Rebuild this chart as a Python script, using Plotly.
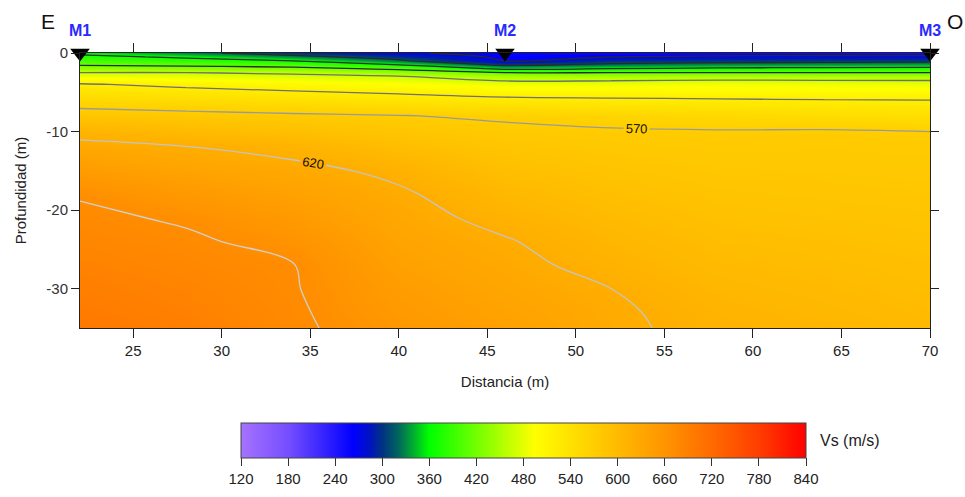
import numpy as np
import plotly.graph_objects as go

# Distance positions (m) of grid columns
X_DIST = [22, 28, 34, 40, 46, 52, 58, 64, 70]
# Depth rows (m, negative downward)
DEPTH = [0, -0.5, -1, -1.5, -2, -2.5, -3, -4, -5, -6, -8, -10, -12, -15, -18, -21, -24, -27, -30, -33, -35]

# Vs (m/s) per column, top to bottom
VS_X22 = [360, 381, 399, 416, 442, 470, 489, 523, 539, 554, 584, 611, 628, 648, 668, 675, 680, 685, 691, 696, 700]
VS_X28 = [330, 363, 388, 411, 439, 470, 484, 512, 532, 549, 579, 600, 621, 636, 652, 667, 674, 678, 683, 687, 690]
VS_X34 = [300, 334, 370, 401, 432, 464, 479, 502, 524, 542, 575, 593, 611, 628, 639, 651, 662, 671, 672, 674, 675]
VS_X40 = [275, 300, 328, 370, 412, 445, 472, 494, 516, 535, 571, 583, 595, 614, 624, 629, 635, 640, 646, 651, 655]
VS_X46 = [258, 263, 270, 312, 360, 420, 451, 485, 507, 528, 566, 576, 583, 593, 603, 613, 622, 627, 632, 637, 640]
VS_X52 = [256, 270, 300, 328, 370, 420, 453, 485, 506, 525, 560, 573, 578, 585, 592, 599, 606, 612, 620, 624, 625]
VS_X58 = [255, 275, 305, 337, 378, 420, 456, 487, 505, 523, 554, 572, 575, 580, 585, 590, 595, 600, 605, 610, 612]
VS_X64 = [253, 280, 307, 341, 382, 420, 456, 485, 503, 521, 548, 573, 576, 579, 583, 587, 592, 596, 600, 604, 607]
VS_X70 = [250, 280, 308, 345, 384, 420, 456, 484, 502, 520, 544, 570, 575, 578, 581, 585, 588, 592, 595, 598, 600]

# Station markers
STATION_X = [22, 46, 70]
STATION_LABELS = ["M1", "M2", "M3"]

X_TICKS = [25, 30, 35, 40, 45, 50, 55, 60, 65, 70]
Y_TICKS = [0, -10, -20, -30]
Y_TICK_TEXT = ["0", "-10", "-20", "-30"]
CBAR_TICKS = [120, 180, 240, 300, 360, 420, 480, 540, 600, 660, 720, 780, 840]

ZMIN, ZMAX = 120, 840

Z = np.array([VS_X22, VS_X28, VS_X34, VS_X40, VS_X46, VS_X52, VS_X58, VS_X64, VS_X70]).T


def n(v):
    return (v - ZMIN) / (ZMAX - ZMIN)


colorscale = [
    [n(120), "rgb(165,115,255)"],
    [n(180), "rgb(118,78,255)"],
    [n(263), "rgb(0,0,255)"],
    [n(285), "rgb(0,20,190)"],
    [n(300), "rgb(0,50,130)"],
    [n(320), "rgb(0,100,95)"],
    [n(340), "rgb(0,175,45)"],
    [n(360), "rgb(0,255,0)"],
    [n(494), "rgb(255,255,0)"],
    [n(600), "rgb(255,186,0)"],
    [n(660), "rgb(255,148,0)"],
    [n(720), "rgb(255,106,0)"],
    [n(780), "rgb(255,62,0)"],
    [n(840), "rgb(255,0,0)"],
]

FONT = "Liberation Sans, Arial, sans-serif"

# layout in page pixels (page body margin removed by post_script)
ML, MT = 80, 53
PW, PH = 850, 275
W, H = 965, 497

fig = go.Figure()

fig.add_trace(go.Heatmap(
    x=X_DIST, y=DEPTH, z=Z, zmin=ZMIN, zmax=ZMAX, zsmooth="best",
    colorscale=colorscale, hoverinfo="skip",
    colorbar=dict(
        orientation="h", x=(241 - ML + 565 / 2) / PW, xanchor="center",
        y=-(423 - MT - PH) / PH, yanchor="top",
        len=565, lenmode="pixels", thickness=35, thicknessmode="pixels",
        xpad=0, ypad=0, outlinecolor="#444", outlinewidth=1,
        tickmode="array", tickvals=CBAR_TICKS, ticks="outside", ticklen=8,
        tickcolor="#333", tickfont=dict(size=15, color="#222", family=FONT),
    ),
))


def contour_lines(start, end, color, labels=False, width=1.3):
    return go.Contour(
        x=X_DIST, y=DEPTH, z=Z, showscale=False, hoverinfo="skip",
        autocontour=False,
        contours=dict(start=start, end=end, size=50, coloring="none",
                      showlabels=labels,
                      labelfont=dict(size=13, color="#111", family=FONT)),
        line=dict(color=color, width=width),
    )


fig.add_trace(contour_lines(270, 420, "#2a2a2a"))
fig.add_trace(contour_lines(470, 520, "#707070"))
fig.add_trace(contour_lines(570, 570, "#9a9a9a", labels=True))
fig.add_trace(contour_lines(620, 620, "#c4c4c4", labels=True))
fig.add_trace(contour_lines(670, 670, "#cfcfcf"))

fig.add_trace(go.Scatter(
    x=STATION_X, y=[0, 0, 0], mode="markers",
    marker=dict(symbol="triangle-down", size=17, color="black"),
    cliponaxis=False, hoverinfo="skip", showlegend=False,
))

annotations = [
    dict(text=lab, x=sx, y=0, xref="x", yref="y", yshift=23, showarrow=False,
         font=dict(size=16, color="#2a2aff", family=FONT, weight="bold"))
    for sx, lab in zip(STATION_X, STATION_LABELS)
]
annotations += [
    dict(text="E", x=(48 - ML) / PW, y=1 + (53 - 22) / PH, xref="paper", yref="paper",
         xanchor="center", yanchor="middle",
         showarrow=False, font=dict(size=21, color="#111", family=FONT)),
    dict(text="O", x=(955 - ML) / PW, y=1 + (53 - 22) / PH, xref="paper", yref="paper",
         xanchor="center", yanchor="middle",
         showarrow=False, font=dict(size=21, color="#111", family=FONT)),
    dict(text="Vs (m/s)", x=(818 - ML) / PW, y=-(440 - 328) / PH, xref="paper", yref="paper",
         xanchor="left", yanchor="middle", showarrow=False,
         font=dict(size=16, color="#222", family=FONT)),
]

fig.update_layout(
    width=W, height=H,
    margin=dict(l=ML, r=W - ML - PW, t=MT, b=H - MT - PH, autoexpand=False),
    paper_bgcolor="white", plot_bgcolor="white",
    font=dict(family=FONT, size=15, color="#222"),
    showlegend=False,
    annotations=annotations,
)

fig.update_xaxes(
    range=[22, 70], tickmode="array", tickvals=X_TICKS,
    ticks="outside", ticklen=9, tickcolor="#222", showline=True,
    linecolor="#222", linewidth=1, mirror="ticks", showgrid=False, zeroline=False,
    tickfont=dict(size=15, color="#222"),
    title=dict(text="Distancia (m)", font=dict(size=15, color="#222"), standoff=18),
)
fig.update_yaxes(
    range=[-35, 0], tickmode="array", tickvals=Y_TICKS, ticktext=Y_TICK_TEXT,
    ticks="outside", ticklen=8, tickcolor="#222", showline=True,
    linecolor="#222", linewidth=1, mirror="ticks", showgrid=False, zeroline=False,
    tickfont=dict(size=15, color="#333"),
    title=dict(text="Profundidad (m)", font=dict(size=15, color="#222"), standoff=16),
)

fig.write_html(
    "out.html",
    config={"displayModeBar": False},
    post_script="document.body.style.margin='0';document.body.style.overflow='hidden';",
)
